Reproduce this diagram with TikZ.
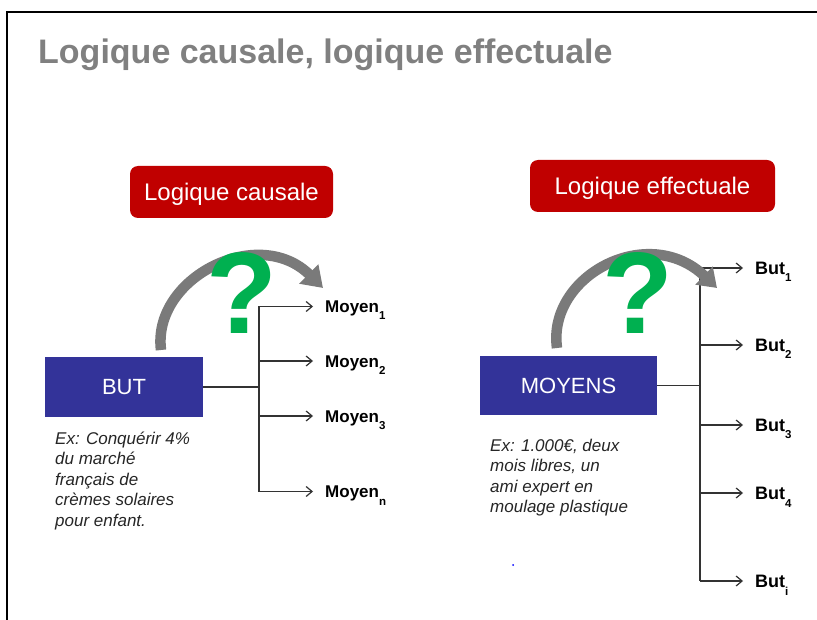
\documentclass[tikz,border=0pt]{standalone}
\usepackage{fontspec}
\setmainfont{Liberation Sans}
\usetikzlibrary{arrows.meta,calc}
\definecolor{titlegray}{RGB}{128,128,128}
\definecolor{boxred}{RGB}{192,0,0}
\definecolor{boxblue}{RGB}{51,51,153}
\definecolor{qgreen}{RGB}{0,176,80}
\definecolor{arcgray}{RGB}{122,122,122}
\newcommand{\lowidx}[1]{\raisebox{-7.5pt}{\fontsize{11.5}{12}\selectfont #1}}
\begin{document}
\begin{tikzpicture}[x=1pt,y=-1pt,
  redbox/.style={fill=boxred, rounded corners=8pt, text=white, font=\fontsize{24}{28}\selectfont, text height=17.5pt, text depth=0pt, inner sep=0pt},
  bluebox/.style={fill=boxblue, text=white, font=\fontsize{22}{26}\selectfont, text height=16pt, text depth=0pt, inner sep=0pt},
  lab/.style={anchor=base west, inner sep=0pt, font=\bfseries\fontsize{17}{20}\selectfont},
  note/.style={anchor=base west, inner sep=0pt, text=black!85, font=\itshape\fontsize{17}{20.5}\selectfont},
  conn/.style={line width=1.2pt, draw=black!80},
  tipline/.style={conn, -{Straight Barb[length=6pt,width=10pt]}, shorten >=12pt},
  arcarrow/.style={line width=10.5pt, draw=arcgray, -{Triangle[width=26pt,length=20pt]}},
  qmark/.style={anchor=base, inner sep=0pt, text=qgreen, font=\bfseries\fontsize{116}{120}\selectfont},
]
\useasboundingbox (0,0) rectangle (817,620);
\fill[white] (0,0) rectangle (817,620);
\draw[line width=1.3pt] (7,620) -- (7,12) -- (817,12);

% title
\node[anchor=base west, inner sep=0pt, text=titlegray, font=\bfseries\fontsize{34}{40}\selectfont] (title) at (38,64) {Logique causale, logique effectuale};

% red headers
\node[redbox, minimum width=203pt, minimum height=52pt] (hc) at (231.5,192) {Logique causale};
\node[redbox, minimum width=245pt, minimum height=52pt] (he) at (652.5,186) {Logique effectuale};

% blue boxes
\node[bluebox, minimum width=158pt, minimum height=60pt] (but) at (124,387) {BUT};
\node[bluebox, minimum width=177pt, minimum height=59pt] (moy) at (568.5,385.5) {MOYENS};

% left labels
\node[lab] (m1) at (325,312.5) {Moyen\lowidx{1}};
\node[lab] (m2) at (325,367) {Moyen\lowidx{2}};
\node[lab] (m3) at (325,422) {Moyen\lowidx{3}};
\node[lab] (mn) at (325,497.5) {Moyen\lowidx{n}};

% right labels
\node[lab, font=\bfseries\fontsize{18}{20}\selectfont] (b1) at (755,274.5) {But\lowidx{1}};
\node[lab, font=\bfseries\fontsize{18}{20}\selectfont] (b2) at (755,351.5) {But\lowidx{2}};
\node[lab, font=\bfseries\fontsize{18}{20}\selectfont] (b3) at (755,431.5) {But\lowidx{3}};
\node[lab, font=\bfseries\fontsize{18}{20}\selectfont] (b4) at (755,499.5) {But\lowidx{4}};
\node[lab, font=\bfseries\fontsize{18}{20}\selectfont] (bi) at (755,587.5) {But\lowidx{i}};

% notes
\node[note] (nl) at (55,444) {\begin{tabular}[t]{@{}l@{}}Ex: Conquérir 4\%\\du marché\\français de\\crèmes solaires\\pour enfant.\end{tabular}};
\node[note] (nr) at (490,451) {\begin{tabular}[t]{@{}l@{}}Ex: 1.000€, deux\\mois libres, un\\ami expert en\\moulage plastique\end{tabular}};

% left connectors
\coordinate (L1) at (259,306.5);
\coordinate (L2) at (259,361);
\coordinate (L3) at (259,416);
\coordinate (Ln) at (259,491.5);
\coordinate (jL) at (but.east -| L1);
\draw[conn] (but.east) -- (jL);
\draw[conn] (L1) -- (Ln);
\draw[tipline] (L1) -- (L1 -| m1.west);
\draw[tipline] (L2) -- (L2 -| m2.west);
\draw[tipline] (L3) -- (L3 -| m3.west);
\draw[tipline] (Ln) -- (Ln -| mn.west);

% right connectors
\coordinate (R1) at (700,268);
\coordinate (R2) at (700,345);
\coordinate (R3) at (700,425);
\coordinate (R4) at (700,493);
\coordinate (Ri) at (700,581);
\coordinate (jR) at (moy.east -| R1);
\draw[conn] (moy.east) -- (jR);
\draw[conn] (R1) -- (Ri);
\draw[tipline] (R1) -- (R1 -| b1.west);
\draw[tipline] (R2) -- (R2 -| b2.west);
\draw[tipline] (R3) -- (R3 -| b3.west);
\draw[tipline] (R4) -- (R4 -| b4.west);
\draw[tipline] (Ri) -- (Ri -| bi.west);

% curved gray arrows
\coordinate (aLs) at (161,350);
\coordinate (aLe) at (323,288);
\draw[arcarrow] (aLs) .. controls (152,278) and (258,224) .. (aLe);
\coordinate (aRs) at (557,348);
\coordinate (aRe) at (717,288);
\draw[arcarrow, -{Triangle[width=24pt,length=18pt]}] (aRs) .. controls (547,276) and (648,222) .. (aRe);

% question marks
\node[qmark] (q1) at (242,334) {?};
\node[qmark] (q2) at (638,334) {?};

% stray dot
\fill[blue] (513,565) circle (1pt);
\end{tikzpicture}
\end{document}
